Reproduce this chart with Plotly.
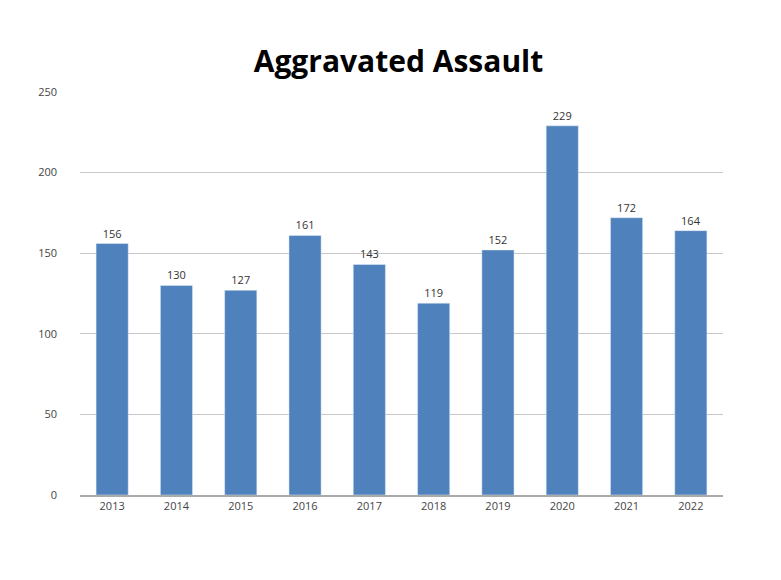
import plotly.graph_objects as go

years = ["2013","2014","2015","2016","2017","2018","2019","2020","2021","2022"]
values = [156,130,127,161,143,119,152,229,172,164]

fig = go.Figure(go.Bar(x=years, y=values, marker_color="#4f81bd", text=values,
                       textposition="outside", cliponaxis=False,
                       textfont=dict(size=11, color="#333")))
fig.update_layout(
    width=781, height=580, margin=dict(l=72, r=66, t=84, b=93),
    paper_bgcolor="white", plot_bgcolor="white", bargap=0.5,
    font=dict(family="Open Sans, DejaVu Sans", size=11, color="#444"),
    title=dict(text="<b>Aggravated Assault</b>", x=0.5, xanchor="center", y=0.907, yanchor="middle",
               font=dict(size=30, color="black", family="Open Sans, DejaVu Sans")),
    showlegend=False,
)
fig.update_yaxes(range=[0,250], dtick=50, showgrid=True, gridcolor="#c8c8c8",
                 zeroline=False, ticks="", ticklabelstandoff=22)
fig.update_xaxes(showline=True, linecolor="#aaaaaa", linewidth=1.5, ticks="")
fig.write_html("out.html")
